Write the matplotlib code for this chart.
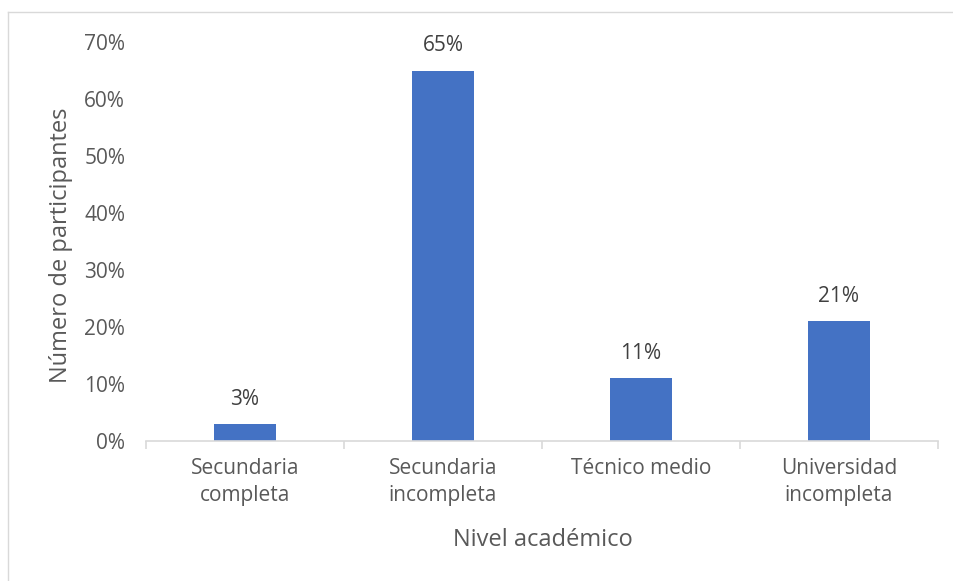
import numpy as np
import matplotlib.pyplot as plt
from matplotlib.lines import Line2D

plt.rcParams['font.family'] = ['Open Sans', 'DejaVu Sans']

categorias = ['Secundaria\ncompleta', 'Secundaria\nincompleta', 'Técnico medio', 'Universidad\nincompleta']
porcentajes = [0.03, 0.65, 0.11, 0.21]
yticks = [0, 0.1, 0.2, 0.3, 0.4, 0.5, 0.6, 0.7]

azul = '#4472C4'
gris_texto = '#595959'
gris_linea = '#D9D9D9'

fig = plt.figure(figsize=(9.54, 5.81), dpi=100)
ax = fig.add_axes([146/954, 1 - 441/581, (938 - 146)/954, (441 - 42)/581])

x = np.arange(len(categorias))
barras = ax.bar(x, porcentajes, width=0.31, color=azul, zorder=2)

for b, v in zip(barras, porcentajes):
    ax.text(b.get_x() + b.get_width()/2, v + 0.025, f'{v*100:.0f}%',
            ha='center', va='bottom', fontsize=15, color='#404040')

ax.set_xlim(-0.5, len(categorias) - 0.5)
ax.set_ylim(0, 0.7)
ax.set_yticks(yticks)
ax.set_yticklabels([f'{t*100:.0f}%' for t in yticks])
ax.set_xticks(x)
ax.set_xticklabels(categorias, linespacing=1.4)
ax.tick_params(axis='y', length=0, labelsize=15, colors=gris_texto, pad=15)
ax.tick_params(axis='x', length=0, labelsize=15, colors=gris_texto, pad=12)

# marcas entre categorias
ax.set_xticks(np.arange(-0.5, len(categorias)), minor=True)
ax.tick_params(axis='x', which='minor', length=6, color=gris_linea, width=1.2)

for s in ['top', 'right', 'left']:
    ax.spines[s].set_visible(False)
ax.spines['bottom'].set_color(gris_linea)
ax.spines['bottom'].set_linewidth(1.2)

ax.set_ylabel('Número de participantes', fontsize=17, color=gris_texto)
ax.yaxis.set_label_coords(73/954, 1 - 245/581, transform=fig.transFigure)
ax.set_xlabel('Nivel académico', fontsize=17, color=gris_texto)
ax.xaxis.set_label_coords(543/954, 1 - 528/581, transform=fig.transFigure)

# borde del grafico
fig.add_artist(Line2D([8/954, 8/954], [0, 1 - 12/581], color=gris_linea, lw=1))
fig.add_artist(Line2D([8/954, 1], [1 - 12/581, 1 - 12/581], color=gris_linea, lw=1))

plt.savefig('out.png', dpi=100)
